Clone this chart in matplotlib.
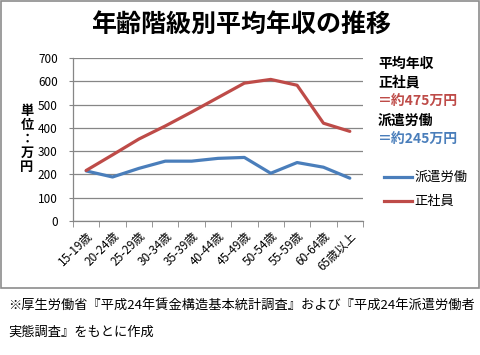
import numpy as np
import matplotlib
matplotlib.use("Agg")
from matplotlib import pyplot as plt
from matplotlib.patches import Rectangle

plt.rcParams['font.family'] = ['Noto Sans CJK JP', 'DejaVu Sans']

# data
ages = ["15-19歳", "20-24歳", "25-29歳", "30-34歳", "35-39歳", "40-44歳",
        "45-49歳", "50-54歳", "55-59歳", "60-64歳", "65歳以上"]
haken = [215, 189, 226, 257, 257, 269, 273, 205, 251, 231, 184]     # 派遣労働
seishain = [217, 284, 352, 408, 468, 530, 592, 608, 583, 420, 385]  # 正社員
yticks = [0, 100, 200, 300, 400, 500, 600, 700]

blue = '#4A7EBB'
red = '#BE4B48'
grid = '#868686'

W, H = 481, 355
fig = plt.figure(figsize=(W / 100, H / 100), dpi=100)

# outer chart border
fig.patches.append(Rectangle((1 / W, 1 - 288 / H), 478 / W, 287 / H,
                             transform=fig.transFigure, fill=False,
                             edgecolor='#8c8c8c', linewidth=1.2))

ax = fig.add_axes([73 / W, 1 - 221 / H, 290 / W, 163 / H])
x = np.arange(len(ages))
ax.plot(x, haken, color=blue, linewidth=2.3, label='派遣労働', solid_capstyle='round')
ax.plot(x, seishain, color=red, linewidth=2.3, label='正社員', solid_capstyle='round')

ax.set_xlim(-0.5, len(ages) - 0.5)
ax.set_ylim(0, 700)
ax.set_yticks(yticks)
ax.tick_params(axis='y', length=3, color=grid, pad=8, labelsize=8.5)
ax.yaxis.grid(True, color=grid, linewidth=0.9)
ax.set_axisbelow(True)

ax.set_xticks(x)
ax.set_xticklabels(ages, rotation=45, ha='right', va='top',
                   rotation_mode='anchor', fontsize=8.5)
ax.tick_params(axis='x', which='major', length=0, pad=6)
ax.set_xticks(np.arange(-0.5, len(ages)), minor=True)
ax.tick_params(axis='x', which='minor', length=4, color=grid)

for s in ['top', 'right']:
    ax.spines[s].set_visible(False)
for s in ['left', 'bottom']:
    ax.spines[s].set_color(grid)
    ax.spines[s].set_linewidth(0.9)

# title
fig.text(241 / W, 1 - 25 / H, '年齢階級別平均年収の推移', ha='center', va='center',
         fontsize=18, fontweight='bold')

# y unit label, stacked vertically
fig.text(27 / W, 1 - 139 / H, '単\n位\n：\n万\n円', ha='center', va='center',
         fontsize=9.5, fontweight='bold', linespacing=1.0)

# right-side notes
notes = [('平均年収', 'black', 64), ('正社員', 'black', 83),
         ('＝約475万円', red, 102), ('派遣労働', 'black', 121),
         ('＝約245万円', blue, 140)]
for txt, col, yy in notes:
    fig.text(378 / W, 1 - yy / H, txt, ha='left', va='center',
             fontsize=10, fontweight='bold', color=col)

# legend
leg = [('派遣労働', blue, 177), ('正社員', red, 201)]
for txt, col, yy in leg:
    fig.add_artist(plt.Line2D([384 / W, 412 / W], [1 - yy / H, 1 - yy / H],
                              color=col, linewidth=2.3, transform=fig.transFigure))
    fig.text(414 / W, 1 - yy / H, txt, ha='left', va='center', fontsize=9.5)

# source note
fig.text(8 / W, 1 - 305 / H, '※厚生労働省『平成24年賃金構造基本統計調査』および『平成24年派遣労働者',
         ha='left', va='center', fontsize=9.5)
fig.text(8 / W, 1 - 332 / H, '実態調査』をもとに作成', ha='left', va='center', fontsize=9.5)

fig.savefig('out.png', dpi=100)
